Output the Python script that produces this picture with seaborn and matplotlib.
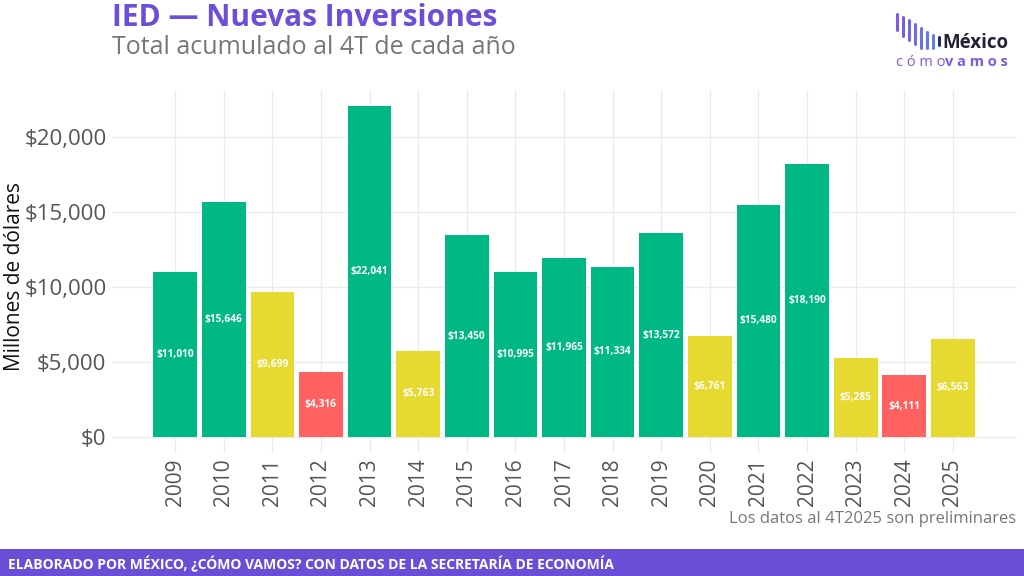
import matplotlib
matplotlib.use("Agg")
import matplotlib.pyplot as plt
import seaborn as sns
import pandas as pd
from matplotlib.patches import Rectangle

years = ["2009", "2010", "2011", "2012", "2013", "2014", "2015", "2016", "2017",
         "2018", "2019", "2020", "2021", "2022", "2023", "2024", "2025"]
values = [11010, 15646, 9699, 4316, 22041, 5763, 13450, 10995, 11965,
          11334, 13572, 6761, 15480, 18190, 5285, 4111, 6563]
levels = ["alto", "alto", "medio", "bajo", "alto", "medio", "alto", "alto", "alto",
          "alto", "alto", "medio", "alto", "alto", "medio", "bajo", "medio"]
palette = {"alto": "#00B884", "medio": "#E6D92F", "bajo": "#FF6060"}
yticks = [0, 5000, 10000, 15000, 20000]
ytick_labels = ["$0", "$5,000", "$10,000", "$15,000", "$20,000"]

df = pd.DataFrame({"year": years, "value": values, "level": levels})

sns.set_theme(style="whitegrid")
plt.rcParams["font.family"] = ["Open Sans", "DejaVu Sans"]

fig = plt.figure(figsize=(10.24, 5.76), dpi=100)
ax = fig.add_axes([112 / 1024, 1 - 453 / 576, (1017 - 112) / 1024, (453 - 90) / 576])

sns.barplot(data=df, x="year", y="value", hue="level", palette=palette,
            dodge=False, width=0.9, legend=False, ax=ax, edgecolor="none",
            order=years, saturation=1)

ax.set_xlim(-1.3, 17.32)
ax.set_ylim(-1067, 23133)
ax.set_yticks(yticks)
ax.set_yticklabels(ytick_labels, fontsize=16, color="#555555")
ax.tick_params(axis="x", labelrotation=90, labelsize=15, labelcolor="#555555", length=0, pad=4)
ax.tick_params(axis="y", length=0, pad=4)
ax.set_xlabel("")
ax.set_ylabel("Millones de dólares", fontsize=15, color="#111111", va="center", ha="center")
ax.yaxis.set_label_coords(-0.108, 0.485)
ax.grid(True, color="#ebebeb", linewidth=1)
for s in ax.spines.values():
    s.set_visible(False)
ax.set_facecolor("white")

for i, v in enumerate(values):
    ax.text(i, v / 2, f"${v:,}", ha="center", va="center", color="white",
            fontsize=7.3, fontweight="bold")

fig.text(112 / 1024, 1 - 18 / 576, "IED — Nuevas Inversiones", fontsize=21.5,
         fontweight="bold", color="#6A4FD8", ha="left", va="center")
fig.text(112 / 1024, 1 - 48 / 576, "Total acumulado al 4T de cada año", fontsize=18,
         color="#777777", ha="left", va="center")
fig.text(1016 / 1024, 1 - 519 / 576, "Los datos al 4T2025 son preliminares",
         fontsize=12, color="#777777", ha="right", va="center")

# footer band
fig.patches.append(Rectangle((0, 0), 1, (576 - 549) / 576, transform=fig.transFigure,
                             facecolor="#6A4FD6", edgecolor="none", zorder=0))
fig.text(8 / 1024, 1 - 564 / 576,
         "ELABORADO POR MÉXICO, ¿CÓMO VAMOS? CON DATOS DE LA SECRETARÍA DE ECONOMÍA",
         fontsize=10, fontweight="bold", color="white", ha="left", va="center")

# logo
bar_x = [897, 903, 909, 915, 921, 927, 933, 939]
bar_top = [14, 17, 20, 24, 28, 32, 35, 37]
bar_bot = [30, 36, 40, 44, 48, 48, 48, 45]
logo_cols = ["#7B5BE0", "#7760E0", "#7266E2", "#6D6CE4", "#6872E6", "#6478E8", "#607EEA", "#2E2E5E"]
for x, t, b, c in zip(bar_x, bar_top, bar_bot, logo_cols):
    fig.add_artist(plt.Line2D([x / 1024, x / 1024], [1 - t / 576, 1 - b / 576],
                              color=c, linewidth=2.2, transform=fig.transFigure))
fig.text(942 / 1024, 1 - 43 / 576, "México", fontsize=13.5, fontweight="bold",
         color="#222233", ha="left", va="center")
fig.text(896 / 1024, 1 - 62 / 576, "c ó m o", fontsize=10.5, color="#7B5BE0",
         ha="left", va="center")
fig.text(945 / 1024, 1 - 62 / 576, "v a m o s", fontsize=10.5, fontweight="bold",
         color="#7B5BE0", ha="left", va="center")

fig.savefig("out.png", dpi=100, facecolor="white")
